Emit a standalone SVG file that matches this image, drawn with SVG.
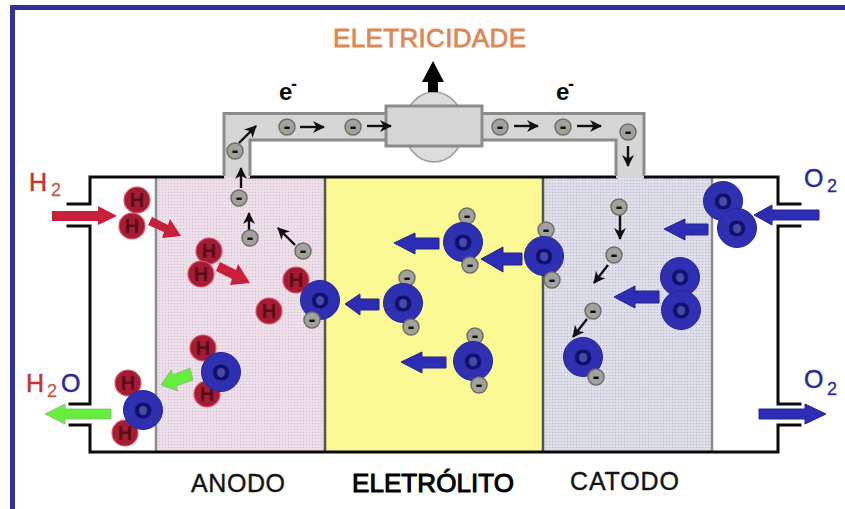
<svg xmlns="http://www.w3.org/2000/svg" xmlns:xlink="http://www.w3.org/1999/xlink" width="845" height="509" viewBox="0 0 845 509">
  <style>
    text { font-family: "Liberation Sans", Arial, sans-serif; }
    .wall { fill: none; stroke: #0a0a0a; stroke-width: 3; stroke-linecap: square; }
    .sep-grey { stroke: #8c8c8c; stroke-width: 2.5; }
    .sep-dark { stroke: #55554a; stroke-width: 2.5; }
    .wire { fill: #d6d6d6; stroke: #8b8b8b; stroke-width: 3; stroke-linejoin: miter; }
    .lamp { fill: #dcdcdc; stroke: #9a9a9a; stroke-width: 1.5; }
    .thin { fill: none; stroke: #111; stroke-width: 2.4; marker-end: url(#tip); }
    .red { fill: #c81f3a; }
    .blue { fill: #2c2cb4; stroke: #24248c; stroke-width: 1; }
    .green { fill: #66ee3c; stroke: #8fbf80; stroke-width: 1; }
    .zone-label { font-size: 25px; fill: #141414; stroke: #141414; stroke-width: 0.4; }
    .zone-label.heavy { font-size: 26px; fill: #000; stroke: #000; stroke-width: 1; }
    .formula { font-size: 25px; stroke-width: 0.5; }
    .sub { font-size: 18px; stroke-width: 0.3; }
    .tint-red { fill: #c5332c; stroke: #c5332c; }
    .tint-sub { fill: #c9583f; stroke: #c9583f; }
    .tint-blue { fill: #2a2a9c; stroke: #2a2a9c; }
    .glyph { text-anchor: middle; font-weight: bold; }
  </style>
  <defs>
    <marker id="tip" markerUnits="userSpaceOnUse" markerWidth="14" markerHeight="14" refX="11" refY="6" orient="auto">
      <path d="M0 0 L12 6 L0 12 L3.500 6 Z" fill="#111"/>
    </marker>
    <pattern id="grain-anode" width="3" height="3" patternUnits="userSpaceOnUse">
      <rect width="3" height="3" fill="#ecdde8"/>
      <rect width="1" height="1" fill="#d2c4d0"/>
      <rect x="1.500" y="1.500" width="1" height="1" fill="#f6eaf3"/>
    </pattern>
    <pattern id="grain-cathode" width="3" height="3" patternUnits="userSpaceOnUse">
      <rect width="3" height="3" fill="#dcdce8"/>
      <rect width="1" height="1" fill="#bfbfcc"/>
      <rect x="1.500" y="1.500" width="1" height="1" fill="#ebebf4"/>
    </pattern>
    <g id="atom-h">
      <circle r="13" fill="#a51b33" stroke="#d9596c" stroke-width="1.200"/>
      <text class="glyph" y="7" font-size="20" fill="#570c17">H</text>
    </g>
    <g id="atom-o">
      <circle r="19.500" fill="#2f2fb2" stroke="#26269a" stroke-width="1"/>
      <circle r="6.500" fill="#4a48a8"/>
      <text class="glyph" y="8" font-size="22" fill="#10106e" stroke="#10106e" stroke-width="0.8">O</text>
    </g>
    <g id="electron">
      <circle r="8" fill="#a2a29c" stroke="#6f6f68" stroke-width="1.500"/>
      <text class="glyph" y="5.500" font-size="21" fill="#111">-</text>
    </g>
  </defs>

  <!-- page frame -->
  <rect x="10" y="5" width="835" height="5" fill="#33309a"/>
  <rect x="10" y="5" width="5" height="504" fill="#33309a"/>

  <!-- cell layers -->
  <g id="anode-layer"><rect x="156" y="177" width="169" height="275" fill="url(#grain-anode)"/></g>
  <g id="electrolyte-layer"><rect x="325" y="177" width="218" height="275" fill="#fbf994"/></g>
  <g id="cathode-layer"><rect x="543" y="177" width="169" height="275" fill="url(#grain-cathode)"/></g>
  <line class="sep-grey" x1="156" y1="177" x2="156" y2="452"/>
  <line class="sep-dark" x1="325" y1="177" x2="325" y2="452"/>
  <line class="sep-dark" x1="543" y1="177" x2="543" y2="452"/>
  <line class="sep-grey" x1="712" y1="177" x2="712" y2="452"/>

  <!-- housing with its four ports -->
  <g id="housing">
    <path class="wall" d="M223 177 H90 V204 H68 M68 226 H90 V404 H70 M70 425 H90 V452 H778 V425 H800 M800 404 H778 V226 H800 M800 204 H778 V177 H645 M250 177 H616"/>
  </g>

  <!-- external circuit -->
  <g id="load-circuit">
    <path d="M224 178 V113.500 H644 V178 H616 V140 H250 V178 Z" fill="#d6d6d6"/>
    <path d="M224 176 V113.500 H644 V176 M616 176 V140 H250 V176" fill="none" stroke="#8b8b8b" stroke-width="3"/>
    <ellipse class="lamp" cx="434" cy="127" rx="30" ry="35"/>
    <rect class="wire" x="386" y="106" width="96" height="40"/>
  </g>

  <g id="connectors">
    <!-- output of the load -->
    <polygon points="433,61 444,82 438,82 438,92 428,92 428,82 422,82" fill="#000"/>
    <!-- electron paths -->
    <line class="thin" x1="241" y1="188" x2="241" y2="168"/>
    <line class="thin" x1="249" y1="231" x2="249" y2="213"/>
    <line class="thin" x1="295" y1="245" x2="278" y2="228"/>
    <line class="thin" x1="239" y1="143" x2="256" y2="126"/>
    <line class="thin" x1="300" y1="127" x2="324" y2="127"/>
    <line class="thin" x1="367" y1="126" x2="391" y2="126"/>
    <line class="thin" x1="514" y1="126" x2="538" y2="126"/>
    <line class="thin" x1="577" y1="126" x2="601" y2="126"/>
    <line class="thin" x1="628" y1="146" x2="628" y2="166"/>
    <line class="thin" x1="620" y1="215" x2="620" y2="239"/>
    <line class="thin" x1="608" y1="265" x2="594" y2="283"/>
    <line class="thin" x1="587" y1="319" x2="573" y2="337"/>
    <!-- hydrogen flow -->
    <polygon class="red" points="52,211 98,211 98,206 117,216 98,225 98,221 52,221"/>
    <polygon class="red" points="152,217 168,225 170,219 181,236 162,238 164,232 148,225"/>
    <polygon class="red" points="220,262 236,270 238,264 250,283 230,285 232,279 216,271"/>
    <!-- oxygen ion flow -->
    <polygon class="blue" points="819,210 772,210 772,205 754,215 772,225 772,220 819,220"/>
    <polygon class="blue" points="708,224 685,224 685,219 664,229 685,240 685,235 708,235"/>
    <polygon class="blue" points="659,291 635,291 635,286 614,297 635,308 635,303 659,303"/>
    <polygon class="blue" points="522,253 503,253 503,247 481,259 503,272 503,265 522,265"/>
    <polygon class="blue" points="439,238 415,238 415,233 394,243 415,254 415,249 439,249"/>
    <polygon class="blue" points="379,299 360,299 360,294 345,304 360,315 360,310 379,310"/>
    <polygon class="blue" points="446,357 422,357 422,352 401,362 422,373 422,368 446,368"/>
    <polygon class="blue" points="759,409 805,409 805,404 826,414 805,424 805,419 759,419"/>
    <!-- water flow -->
    <polygon class="green" points="190,368 193,380 176,386 178,391 161,385 171,370 173,375"/>
    <polygon class="green" points="111,409 65,409 65,404 45,414 65,424 65,419 111,419"/>
  </g>

  <!-- hydrogen -->
  <g id="h2-inlet"><use href="#atom-h" x="137" y="200"/><use href="#atom-h" x="132" y="226"/></g>
  <g id="h2-anode"><use href="#atom-h" x="209" y="251"/><use href="#atom-h" x="201" y="274"/></g>
  <g id="h-single"><use href="#atom-h" x="269" y="311"/></g>

  <!-- free electrons -->
  <g id="e-anode-1"><use href="#electron" x="239" y="198"/></g>
  <g id="e-anode-2"><use href="#electron" x="250" y="238"/></g>
  <g id="e-anode-3"><use href="#electron" x="303" y="251"/></g>
  <g id="e-wire-1"><use href="#electron" x="235" y="151"/></g>
  <g id="e-wire-2"><use href="#electron" x="287" y="127"/></g>
  <g id="e-wire-3"><use href="#electron" x="353" y="127"/></g>
  <g id="e-wire-4"><use href="#electron" x="500" y="127"/></g>
  <g id="e-wire-5"><use href="#electron" x="563" y="127"/></g>
  <g id="e-wire-6"><use href="#electron" x="628" y="132"/></g>
  <g id="e-cathode-1"><use href="#electron" x="619" y="207"/></g>
  <g id="e-cathode-2"><use href="#electron" x="614" y="255"/></g>
  <g id="e-cathode-3"><use href="#electron" x="593" y="311"/></g>

  <!-- oxygen ions -->
  <g id="ion-anode"><use href="#atom-h" x="296" y="280"/><use href="#atom-o" x="320" y="300"/><use href="#electron" x="312" y="320"/></g>
  <g id="ion-electrolyte-1"><use href="#electron" x="467" y="216"/><use href="#atom-o" x="463" y="242"/><use href="#electron" x="470" y="265"/></g>
  <g id="ion-electrolyte-2"><use href="#electron" x="546" y="230"/><use href="#atom-o" x="544" y="256"/><use href="#electron" x="552" y="280"/></g>
  <g id="ion-electrolyte-3"><use href="#electron" x="407" y="278"/><use href="#atom-o" x="403" y="303"/><use href="#electron" x="411" y="327"/></g>
  <g id="ion-electrolyte-4"><use href="#electron" x="475" y="336"/><use href="#atom-o" x="473" y="361"/><use href="#electron" x="479" y="385"/></g>
  <g id="ion-cathode"><use href="#atom-o" x="583" y="357"/><use href="#electron" x="596" y="377"/></g>

  <!-- oxygen molecules -->
  <g id="o2-inlet"><use href="#atom-o" x="723" y="201"/><use href="#atom-o" x="737" y="228"/></g>
  <g id="o2-cathode"><use href="#atom-o" x="680" y="277"/><use href="#atom-o" x="681" y="310"/></g>

  <!-- water -->
  <g id="h2o-anode"><use href="#atom-h" x="203" y="348"/><use href="#atom-h" x="207" y="394"/><use href="#atom-o" x="221" y="372"/></g>
  <g id="h2o-outlet"><use href="#atom-h" x="128" y="383"/><use href="#atom-h" x="125" y="433"/><use href="#atom-o" x="143" y="410"/></g>

  <!-- labels -->
  <text x="333" y="47" font-size="26" textLength="193" fill="#d98a58" stroke="#d98a58" stroke-width="0.8">ELETRICIDADE</text>
  <g fill="#0a0a0a" font-weight="bold">
    <text x="279" y="100" font-size="24">e</text>
    <text x="291" y="90" font-size="18">-</text>
    <text x="556" y="100" font-size="24">e</text>
    <text x="568" y="90" font-size="18">-</text>
  </g>
  <text class="formula tint-red" x="29" y="191">H</text>
  <text class="sub tint-sub" x="51" y="196">2</text>
  <text class="formula tint-red" x="26" y="392">H</text>
  <text class="sub tint-sub" x="47" y="397">2</text>
  <text class="formula tint-blue" x="61" y="392">O</text>
  <text class="formula tint-blue" x="804" y="187">O</text>
  <text class="sub tint-blue" x="827" y="192">2</text>
  <text class="formula tint-blue" x="804" y="388">O</text>
  <text class="sub tint-blue" x="827" y="395">2</text>
  <text class="zone-label" x="191" y="492" textLength="94">ANODO</text>
  <text class="zone-label heavy" x="352" y="492" textLength="162">ELETRÓLITO</text>
  <text class="zone-label" x="570" y="490" textLength="109">CATODO</text>
</svg>
